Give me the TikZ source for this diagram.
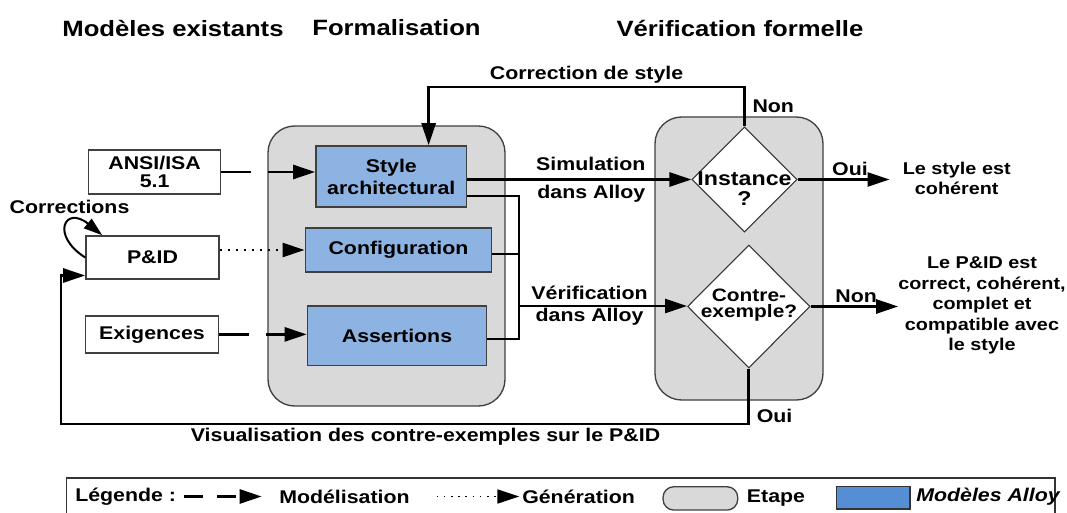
\documentclass[tikz,border=0pt]{standalone}
\usepackage{fontspec}
\setmainfont{Liberation Sans}[FakeStretch=1.16]
\usetikzlibrary{calc,positioning,arrows.meta,shapes,backgrounds}
\definecolor{alloyblue}{RGB}{141,179,226}
\definecolor{legblue}{RGB}{85,142,213}
\definecolor{etapegray}{RGB}{217,217,217}

\begin{document}
\begin{tikzpicture}[x=0.75pt,y=-0.75pt]
\tikzstyle{every node}=[font=\bfseries\fontsize{13.8}{16.5}\selectfont, inner sep=0pt]
\tikzstyle{ttl}=[font=\bfseries\fontsize{16.6}{20}\selectfont]
\tikzstyle{res}=[align=center, font=\bfseries\fontsize{12.8}{15.4}\selectfont]
\tikzstyle{etape}=[draw=black!75, line width=1pt, fill=etapegray, rounded corners=20pt]
\tikzstyle{mdl}=[draw=black!75, line width=1.2pt, fill=alloyblue, align=center]
\tikzstyle{src}=[draw=black!75, line width=1.2pt, fill=white, align=center]
\tikzstyle{dia}=[draw=black!80, diamond, fill=white, line width=.8pt]
\tikzstyle{dtxt}=[align=center]
\tikzstyle{lbl}=[align=center, inner sep=2pt]
\tikzstyle{lnk}=[line width=2pt]
\tikzstyle{arr}=[line width=2pt, -{Triangle[length=16.5pt,width=10.5pt]}]
\tikzstyle{dsh}=[dash pattern=on 22pt off 13pt]
\tikzstyle{dot}=[line width=1.8pt, dash pattern=on 1.8pt off 4.2pt]
\useasboundingbox (0,0) rectangle (1067,513);

% titres
\node[ttl] (tme) at (173,28) {Modèles existants};
\node[ttl] (tfo) at (396.5,28) {Formalisation};
\node[ttl] (tvf) at (740,28) {Vérification formelle};

% etapes
\begin{scope}[on background layer]
\node[etape, minimum width=177.75pt, minimum height=210pt] (form) at (386.5,266) {};
\node[etape, minimum width=126pt, minimum height=212.25pt] (verif) at (739,258.5) {};
\end{scope}

% modeles existants
\node[src, minimum width=99pt, minimum height=33pt] (ansi) at (154.6,172) {ANSI/ISA\\[-3.5pt]5.1};
\node[src, minimum width=99.75pt, minimum height=32.25pt] (pid) at (152.5,257.5) {P\&ID};
\node[src, minimum width=100pt, minimum height=28pt] (exig) at (152,334.4) {Exigences};
\node (corr) at (69.5,207) {Corrections};

% modeles Alloy
\node[mdl, minimum width=113pt, minimum height=45.75pt] (style) at (391.3,176.5) {Style\\architectural};
\node[mdl, minimum width=139.7pt, minimum height=33pt] (config) at (398.5,250) {Configuration};
\node[mdl, minimum width=134.25pt, minimum height=44.8pt] (assert) at (397,335.8) {Assertions};

% verification
\node[dia, minimum width=78.75pt, minimum height=78.75pt] (inst) at (744.5,179.5) {};
\node[dtxt, font=\bfseries\fontsize{15}{15}\selectfont] (instt) at (744.5,188.5) {Instance\\?};
\node[dia, minimum width=91.9pt, minimum height=92.25pt] (contre) at (748.8,306.5) {};
\node[dtxt, font=\bfseries\fontsize{13.5}{12.5}\selectfont] (contret) at (749,305) {Contre-\\exemple?};
\node[res] (res1) at (956.7,178.5) {Le style est\\cohérent};
\node[res] (res2) at (982,305.5) {Le P\&ID est\\correct, cohérent,\\complet et\\compatible avec\\le style};

% fleches
\draw[arr, dsh] (ansi.east) -- (ansi.east -| style.west);
\draw[arr, dot] (config.west -| pid.east) -- (config.west);
\draw[arr, dsh] (exig.east) -- (exig.east -| assert.west);
\draw[line width=1.5pt, -{Triangle[length=14pt,width=9pt]}] (pid.west) .. controls (50,235) and (65,205) .. ([xshift=12.75pt]pid.north west);

\draw[arr] (style.east |- inst.west) -- node[pos=.8, anchor=east, align=right] {Simulation\\[4.5pt]dans Alloy} (inst.west);
\coordinate (bus) at (519,306);
\foreach \n/\s in {style/-14.6pt,config/-3pt,assert/-2.5pt}{\draw[lnk] ([yshift=\s]\n.east) -| (bus);}
\draw[arr] (bus) -- node[lbl, pos=.42]{Vérification\\dans Alloy} (bus -| contre.west);

\coordinate (cs) at (744.5,87);
\draw[arr] (inst.north) -- node[lbl, right=3pt, pos=.5]{Non} (cs) -| node[lbl, above, pos=.25]{Correction de style} ([xshift=28pt]style.north);

\draw[arr, shorten >=9.75pt] (inst.east) -- node[lbl, above, pos=.5]{Oui} (inst.east -| res1.west);
\draw[arr] (contre.east) -- node[lbl, above, pos=.52]{Non} (contre.east -| res2.west);

\coordinate (fb) at (61,424);
\draw[arr] (contre.south) |- node[lbl, right=3pt, pos=.43]{Oui} node[lbl, below, pos=.735]{Visualisation des contre-exemples sur le P\&ID} (fb) |- ([yshift=-13.5pt]pid.west);

% legende
\draw[line width=1.2pt, draw=black!80] (66.5,478) rectangle (1055,535);
\node[anchor=west] (lgd) at (75,496.5) {Légende :};
\coordinate (lm) at (184,496.5);
\node[anchor=west] (lmod) at (279,496.5) {Modélisation};
\draw[arr, dash pattern=on 14pt off 11pt] (lm) -- ([xshift=-13pt]lmod.west);
\coordinate (lg) at (436.6,496.5);
\node[anchor=west] (lgen) at (522,496.5) {Génération};
\draw[arr, line width=1.2pt, dash pattern=on 1.2pt off 4.2pt] (lg) -- ([xshift=-2pt]lgen.west);
\node[etape, rounded corners=8pt, minimum width=56pt, minimum height=17.5pt] (let) at (700.4,498.4) {};
\node[anchor=west] (lete) at (746.7,498) {Etape};
\node[draw=black!80, line width=1pt, fill=legblue, minimum width=55pt, minimum height=16.75pt] (lal) at (873.4,497.9) {};
\node[anchor=west, font=\bfseries\itshape\fontsize{13.8}{16.5}\selectfont] (lall) at (916,497) {Modèles Alloy};
\end{tikzpicture}
\end{document}
